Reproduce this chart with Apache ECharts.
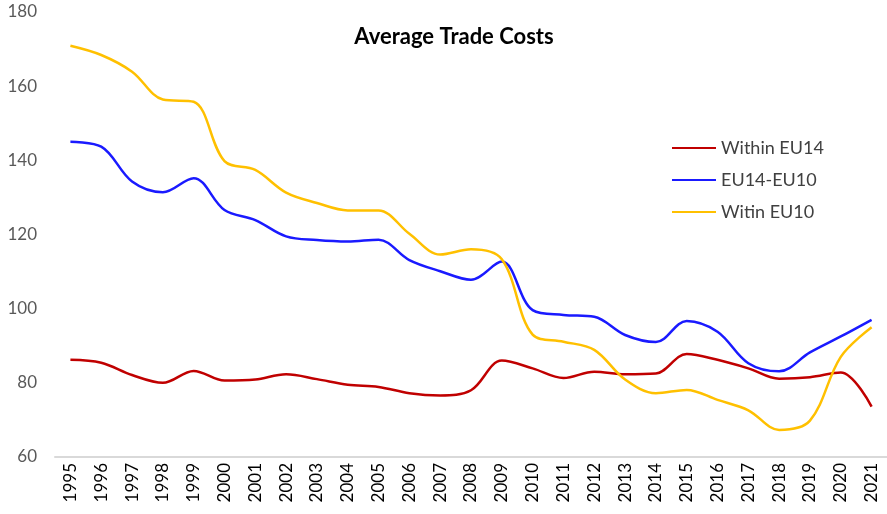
<!DOCTYPE html>
<html>
<head>
<meta charset="utf-8">
<script src="https://cdn.jsdelivr.net/npm/echarts@6/dist/echarts.min.js"></script>
<style>
  html, body { margin: 0; padding: 0; background: #fff; }
  #chart { width: 887px; height: 514px; }
</style>
</head>
<body>
<div id="chart"></div>
<script>
var years = ['1995', '1996', '1997', '1998', '1999', '2000', '2001', '2002', '2003', '2004',
    '2005', '2006', '2007', '2008', '2009', '2010', '2011', '2012', '2013', '2014',
    '2015', '2016', '2017', '2018', '2019', '2020', '2021'];

var withinEU14 = [86.2, 85.4, 82.1, 80.0, 83.2, 80.6, 80.9, 82.3, 81.0, 79.5,
    78.9, 77.2, 76.6, 78.0, 86.0, 83.9, 81.3, 83.0, 82.3, 82.5,
    87.8, 86.2, 83.9, 81.1, 81.5, 82.8, 73.6];

var eu14EU10 = [145.0, 143.7, 134.3, 131.4, 135.2, 126.6, 123.9, 119.5, 118.5, 118.1,
    118.6, 113.1, 110.1, 107.8, 112.7, 99.6, 98.3, 97.8, 92.9, 91.0,
    96.7, 93.8, 85.3, 83.1, 88.2, 92.5, 97.0];

var witinEU10 = [170.9, 168.4, 163.9, 156.4, 155.8, 139.8, 137.4, 131.3, 128.5, 126.5,
    126.5, 120.2, 114.6, 116.0, 113.3, 93.0, 91.1, 88.9, 80.9, 77.2,
    78.1, 75.4, 72.6, 67.3, 69.8, 87.0, 95.0];

var chart = echarts.init(document.getElementById('chart'));

function linha(nome, cor, dados) {
    return {
        name: nome,
        type: 'line',
        data: dados,
        smooth: 0.35,
        symbol: 'none',
        lineStyle: { color: cor, width: 2.5 },
        itemStyle: { color: cor }
    };
}

chart.setOption({
    animation: false,
    title: {
        text: 'Average Trade Costs',
        left: 449,
        top: 21,
        textAlign: 'center',
        textStyle: { fontFamily: 'Lato', fontWeight: 'bold', fontSize: 22, color: '#000' }
    },
    legend: {
        orient: 'vertical',
        left: 667,
        top: 134,
        itemGap: 14,
        itemWidth: 44,
        itemHeight: 2,
        icon: 'rect',
        textStyle: { fontFamily: 'Lato', fontSize: 18, color: '#404040' },
        data: ['Within EU14', 'EU14-EU10', 'Witin EU10']
    },
    grid: { left: 55, width: 837, top: 12, bottom: 57 },
    xAxis: {
        type: 'category',
        data: years,
        boundaryGap: true,
        axisLine: { lineStyle: { color: '#d9d9d9', width: 2 } },
        axisTick: { show: false },
        axisLabel: {
            rotate: 90,
            interval: 0,
            margin: 6,
            fontFamily: 'Lato',
            fontSize: 17,
            color: '#000'
        }
    },
    yAxis: {
        type: 'value',
        min: 60,
        max: 180,
        interval: 20,
        axisLine: { show: false },
        axisTick: { show: false },
        splitLine: { show: false },
        axisLabel: { fontFamily: 'Lato', fontSize: 17, color: '#595959', margin: 18 }
    },
    series: [
        linha('Within EU14', '#c00000', withinEU14),
        linha('EU14-EU10', '#1a1aff', eu14EU10),
        linha('Witin EU10', '#ffc000', witinEU10)
    ]
});
</script>
</body>
</html>
